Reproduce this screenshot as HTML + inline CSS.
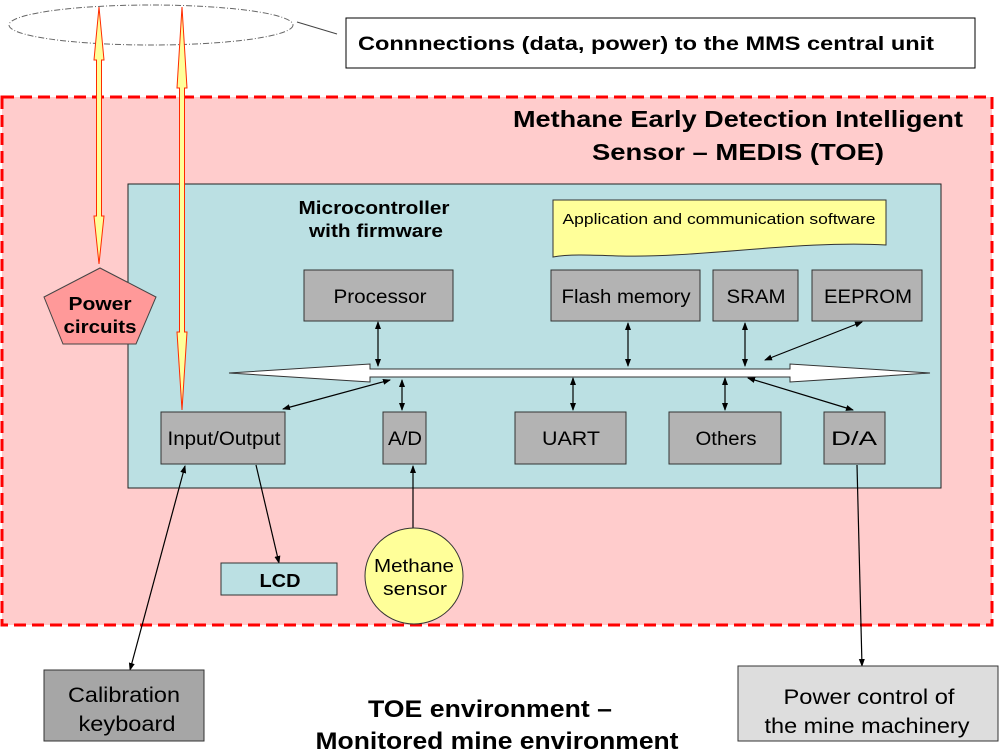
<!DOCTYPE html>
<html><head><meta charset="utf-8"><style>body{margin:0;background:#fff}svg{display:block}</style></head><body>
<svg width="1000" height="755" viewBox="0 0 1000 755" xmlns="http://www.w3.org/2000/svg" font-family="Liberation Sans, Arial, sans-serif">
<defs>
<marker id="a" markerWidth="8" markerHeight="8" refX="7" refY="4" orient="auto-start-reverse" markerUnits="userSpaceOnUse"><path d="M0,1 L8,4 L0,7 Z" fill="#000"/></marker>
</defs>
<rect width="1000" height="755" fill="#fff"/>
<ellipse cx="151" cy="25" rx="142" ry="20" fill="none" stroke="#666" stroke-width="1" stroke-dasharray="6,2,1,2"/>
<line x1="297" y1="22" x2="337" y2="34" stroke="#444"/>
<rect x="346" y="18" width="629" height="50" fill="#fff" stroke="#000"/>
<text x="358" y="50" font-size="19" font-weight="bold" textLength="576" lengthAdjust="spacingAndGlyphs">Connnections (data, power) to the MMS central unit</text>
<rect x="2" y="97" width="990" height="528" fill="#ffcccc" stroke="#ff0000" stroke-width="3" stroke-dasharray="12,6"/>
<text x="738" y="127" font-size="23" font-weight="bold" text-anchor="middle" textLength="450" lengthAdjust="spacingAndGlyphs">Methane Early Detection  Intelligent</text>
<text x="738" y="160" font-size="23" font-weight="bold" text-anchor="middle" textLength="292" lengthAdjust="spacingAndGlyphs">Sensor  – MEDIS (TOE)</text>
<rect x="128" y="184" width="813" height="304" fill="#bbe0e3" stroke="#222"/>
<text x="374" y="214" font-size="18" font-weight="bold" text-anchor="middle" textLength="151" lengthAdjust="spacingAndGlyphs">Microcontroller</text>
<text x="376" y="237" font-size="18" font-weight="bold" text-anchor="middle" textLength="134" lengthAdjust="spacingAndGlyphs">with firmware</text>
<path d="M553,257 L553,200 L886,200 L886,245 C800,240 700,258 620,256 C590,255 570,254 553,257 Z" fill="#ffff99" stroke="#333"/>
<text x="719" y="224" font-size="15" text-anchor="middle" textLength="313" lengthAdjust="spacingAndGlyphs">Application and communication software</text>
<g fill="#b3b3b3" stroke="#333">
<rect x="304" y="270" width="149" height="51"/><rect x="551" y="270" width="149" height="51"/>
<rect x="713" y="270" width="85" height="51"/><rect x="812" y="270" width="110" height="51"/>
<rect x="161" y="412" width="124" height="52"/><rect x="383" y="412" width="43" height="52"/>
<rect x="515" y="412" width="111" height="52"/><rect x="669" y="412" width="112" height="52"/>
<rect x="824" y="412" width="61" height="52"/>
</g>
<g font-size="19" text-anchor="middle" lengthAdjust="spacingAndGlyphs">
<text x="380" y="303" textLength="93" lengthAdjust="spacingAndGlyphs">Processor</text>
<text x="626" y="303" textLength="129" lengthAdjust="spacingAndGlyphs">Flash memory</text>
<text x="756" y="303" textLength="59" lengthAdjust="spacingAndGlyphs">SRAM</text>
<text x="868" y="303" textLength="88" lengthAdjust="spacingAndGlyphs">EEPROM</text>
<text x="224" y="445" textLength="113" lengthAdjust="spacingAndGlyphs">Input/Output</text>
<text x="405" y="445" textLength="34" lengthAdjust="spacingAndGlyphs">A/D</text>
<text x="571" y="445" textLength="58" lengthAdjust="spacingAndGlyphs">UART</text>
<text x="726" y="445" textLength="61" lengthAdjust="spacingAndGlyphs">Others</text>
<text x="854" y="445" textLength="46" lengthAdjust="spacingAndGlyphs">D/A</text>
</g>
<path d="M229,373 L370,364 L370,369 L790,369 L790,364 L930,373 L790,382 L790,377 L370,377 L370,382 Z" fill="#fff" stroke="#333"/>
<g stroke="#000" stroke-width="1.2" marker-start="url(#a)" marker-end="url(#a)">
<line x1="378" y1="322" x2="378" y2="366"/>
<line x1="628" y1="323" x2="628" y2="366"/>
<line x1="745" y1="323" x2="745" y2="366"/>
<line x1="862" y1="322" x2="765" y2="360"/>
<line x1="283" y1="409" x2="390" y2="380"/>
<line x1="402" y1="380" x2="402" y2="410"/>
<line x1="573" y1="378" x2="573" y2="410"/>
<line x1="725" y1="378" x2="725" y2="410"/>
<line x1="853" y1="410" x2="748" y2="378"/>
<line x1="185" y1="466" x2="130" y2="670"/>
</g>
<g stroke="#000" stroke-width="1.2" marker-end="url(#a)">
<line x1="256" y1="465" x2="279" y2="563"/>
<line x1="413" y1="528" x2="413" y2="466"/>
<line x1="857" y1="465" x2="862" y2="666"/>
</g>
<rect x="221" y="563" width="116" height="32" fill="#bbe0e3" stroke="#333"/>
<text x="280" y="587" font-size="18" font-weight="bold" text-anchor="middle" textLength="41" lengthAdjust="spacingAndGlyphs">LCD</text>
<ellipse cx="414" cy="576" rx="49" ry="48" fill="#ffff99" stroke="#333"/>
<text x="414" y="572" font-size="18" text-anchor="middle" textLength="80" lengthAdjust="spacingAndGlyphs">Methane</text>
<text x="415" y="595" font-size="18" text-anchor="middle" textLength="64" lengthAdjust="spacingAndGlyphs">sensor</text>
<polygon points="100,268 156,297 136,344 63,344 44,297" fill="#ff9999" stroke="#444"/>
<text x="100" y="310" font-size="18" font-weight="bold" text-anchor="middle" textLength="63" lengthAdjust="spacingAndGlyphs">Power</text>
<text x="100" y="333" font-size="18" font-weight="bold" text-anchor="middle" textLength="73" lengthAdjust="spacingAndGlyphs">circuits</text>
<g fill="#ffff99" stroke="#ff2a00" stroke-width="1">
<path d="M99,7 L104,60 L101.5,60 L101.5,216 L104,216 L99,264 L94,216 L96.5,216 L96.5,60 L94,60 Z"/>
<path d="M182,7 L187,88 L184.5,88 L184.5,332 L187,332 L182,410 L177,332 L179.5,332 L179.5,88 L177,88 Z"/>
</g>
<rect x="44" y="670" width="160" height="71" fill="#a6a6a6" stroke="#333"/>
<text x="124" y="702" font-size="21" text-anchor="middle" textLength="112" lengthAdjust="spacingAndGlyphs">Calibration</text>
<text x="127" y="731" font-size="21" text-anchor="middle" textLength="97" lengthAdjust="spacingAndGlyphs">keyboard</text>
<rect x="738" y="666" width="260" height="75" fill="#dddddd" stroke="#333"/>
<text x="869" y="704" font-size="21" text-anchor="middle" textLength="171" lengthAdjust="spacingAndGlyphs">Power control of</text>
<text x="867" y="733" font-size="21" text-anchor="middle" textLength="205" lengthAdjust="spacingAndGlyphs">the mine machinery</text>
<text x="490" y="717" font-size="24" font-weight="bold" text-anchor="middle" textLength="244" lengthAdjust="spacingAndGlyphs">TOE environment –</text>
<text x="497" y="749" font-size="24" font-weight="bold" text-anchor="middle" textLength="363" lengthAdjust="spacingAndGlyphs">Monitored mine environment</text>
</svg>
</body></html>
